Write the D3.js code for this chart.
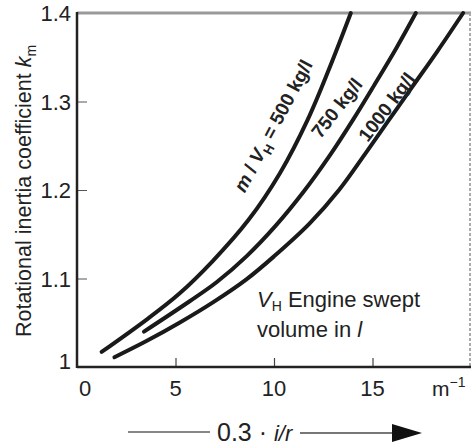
<!DOCTYPE html>
<html>
<head>
<meta charset="utf-8">
<script src="https://cdn.jsdelivr.net/npm/d3@7"></script>
<style>
  body { margin: 0; background: #fff; }
  text { font-family: "Liberation Sans", Arial, sans-serif; fill: #222; }
</style>
</head>
<body>
<script>
// values: x = 0.3*i/r in 1/m, y = rotational inertia coefficient
var xTicks = [0, 5, 10, 15];
var yTicks = [1, 1.1, 1.2, 1.3, 1.4];

var curve500 = [[1.25, 1.017], [3.5, 1.053], [5.2, 1.083], [6.9, 1.12], [8.7, 1.166],
                [10.3, 1.219], [11.7, 1.279], [12.8, 1.337], [13.9, 1.4]];
var curve750 = [[3.4, 1.04], [5.7, 1.074], [7.1, 1.096], [8.6, 1.125], [10.1, 1.16], [11.5, 1.198],
                [12.8, 1.238], [14.0, 1.279], [15.1, 1.319], [16.2, 1.36], [17.2, 1.4]];
var curve1000 = [[1.9, 1.011], [3.5, 1.029], [5.2, 1.05], [6.9, 1.073], [8.6, 1.099], [10.0, 1.125],
                 [11.8, 1.162], [13.3, 1.2], [14.6, 1.24], [15.8, 1.278], [17.0, 1.316], [18.3, 1.357], [19.6, 1.4]];

var curveLabels = ["500 kg/l", "750 kg/l", "1000 kg/l"];

var width = 473, height = 448;
var margin = {left: 77, top: 13, right: 2, bottom: 81};

var svg = d3.select("body").append("svg").attr("width", width).attr("height", height);

var x = d3.scaleLinear().domain([0, 20]).range([margin.left, width - margin.right]);
var y = d3.scaleLinear().domain([1, 1.4]).range([height - margin.bottom, margin.top]);

// frame: grey top and dotted grey right edge
svg.append("line")
    .attr("x1", x(0)).attr("x2", x(20)).attr("y1", y(1.4)).attr("y2", y(1.4))
    .attr("stroke", "#999").attr("stroke-width", 3);
svg.append("line")
    .attr("x1", x(20) - 1).attr("x2", x(20) - 1).attr("y1", y(1.4)).attr("y2", y(1))
    .attr("stroke", "#aaa").attr("stroke-width", 2).attr("stroke-dasharray", "3,2");

// axes with inward ticks
var xAxis = d3.axisTop(x).tickValues(xTicks.slice(1)).tickSize(9).tickFormat("");
svg.append("g").attr("transform", "translate(0," + y(1) + ")").call(xAxis)
    .call(g => g.select(".domain").remove())
    .selectAll("line").attr("stroke", "#444").attr("stroke-width", 1.2);

var yAxis = d3.axisRight(y).tickValues(yTicks.slice(1, 4)).tickSize(10).tickFormat("");
svg.append("g").attr("transform", "translate(" + x(0) + ",0)").call(yAxis)
    .call(g => g.select(".domain").remove())
    .selectAll("line").attr("stroke", "#555").attr("stroke-width", 1);

svg.append("line")
    .attr("x1", x(0)).attr("x2", x(20)).attr("y1", y(1)).attr("y2", y(1))
    .attr("stroke", "#222").attr("stroke-width", 2.5);
svg.append("line")
    .attr("x1", x(0)).attr("x2", x(0)).attr("y1", y(1.4) - 1).attr("y2", y(1) + 1)
    .attr("stroke", "#222").attr("stroke-width", 2.5);

// tick labels
svg.selectAll("text.xlab").data(xTicks).enter().append("text")
    .attr("class", "xlab")
    .attr("x", function(d) { return d == 0 ? x(d) + 8 : x(d); })
    .attr("y", 396)
    .attr("text-anchor", "middle")
    .style("font-size", "22px")
    .text(function(d) { return d; });

var unit = svg.append("text").attr("x", 432).attr("y", 396).style("font-size", "21px").text("m");
unit.append("tspan").attr("dy", -9).style("font-size", "14px").text("−1");

svg.selectAll("text.ylab").data(yTicks).enter().append("text")
    .attr("class", "ylab")
    .attr("x", 71)
    .attr("y", function(d) { return d == 1 ? y(d) + 2 : y(d) + 8; })
    .attr("text-anchor", "end")
    .style("font-size", "22px")
    .text(function(d) { return d == 1 ? "1" : d.toFixed(1); });

// y axis title
var ytitle = svg.append("text")
    .attr("transform", "translate(31,191) rotate(-90)")
    .attr("text-anchor", "middle")
    .style("font-size", "21.5px")
    .text("Rotational inertia coefficient ");
ytitle.append("tspan").style("font-style", "italic").text("k");
ytitle.append("tspan").attr("dy", 5).style("font-size", "14px").text("m");

// curves
var line = d3.line().x(function(d) { return x(d[0]); }).y(function(d) { return y(d[1]); }).curve(d3.curveCatmullRom);
[curve500, curve750, curve1000].forEach(function(c) {
  svg.append("path").datum(c)
      .attr("d", line)
      .attr("fill", "none")
      .attr("stroke", "#1a1a1a")
      .attr("stroke-width", 4)
      .attr("stroke-linecap", "round");
});

// curve labels
var lab500 = svg.append("text")
    .attr("transform", "translate(279,129) rotate(-62)")
    .attr("text-anchor", "middle")
    .style("font-size", "19px").style("font-weight", "bold");
lab500.append("tspan").style("font-style", "italic").text("m");
lab500.append("tspan").text(" / ");
lab500.append("tspan").style("font-style", "italic").text("V");
lab500.append("tspan").attr("dy", 5).style("font-size", "13px").text("H");
lab500.append("tspan").attr("dy", -5).text(" = " + curveLabels[0]);

svg.append("text")
    .attr("transform", "translate(342,112) rotate(-52)")
    .attr("text-anchor", "middle")
    .style("font-size", "19px").style("font-weight", "bold")
    .text(curveLabels[1]);

svg.append("text")
    .attr("transform", "translate(392,111) rotate(-53)")
    .attr("text-anchor", "middle")
    .style("font-size", "19px").style("font-weight", "bold")
    .text(curveLabels[2]);

// note
var note1 = svg.append("text").attr("x", 257).attr("y", 307).style("font-size", "22px");
note1.append("tspan").style("font-style", "italic").text("V");
note1.append("tspan").attr("dy", 4).style("font-size", "14px").text("H");
note1.append("tspan").attr("dy", -4).text(" Engine swept");
var note2 = svg.append("text").attr("x", 257).attr("y", 337).style("font-size", "22px");
note2.append("tspan").text("volume in ");
note2.append("tspan").style("font-style", "italic").text("l");

// bottom axis caption with arrow
svg.append("line").attr("x1", 128).attr("x2", 210).attr("y1", 432).attr("y2", 432)
    .attr("stroke", "#888").attr("stroke-width", 2);
var cap = svg.append("text").attr("x", 217).attr("y", 441).style("font-size", "25px");
cap.append("tspan").text("0.3 · ");
cap.append("tspan").style("font-style", "italic").style("font-size", "22px").text("i/r");
svg.append("line").attr("x1", 300).attr("x2", 400).attr("y1", 433).attr("y2", 433)
    .attr("stroke", "#777").attr("stroke-width", 2);
svg.append("path").attr("d", d3.line()([[392, 424], [422, 433], [392, 442]]) + "Z").attr("fill", "#111");
</script>
</body>
</html>
